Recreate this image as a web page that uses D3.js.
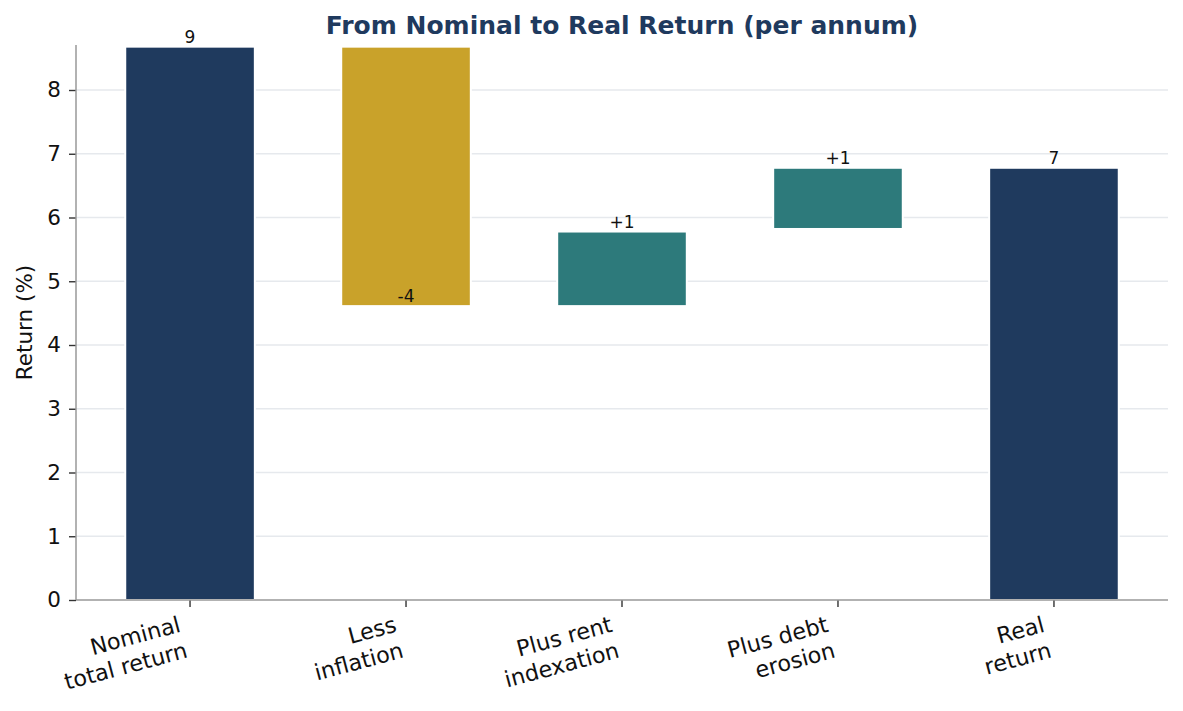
<!DOCTYPE html>
<html>
<head>
<meta charset="utf-8">
<script src="https://cdn.jsdelivr.net/npm/d3@7"></script>
<style>
  body { margin: 0; background: #fff; }
  svg { display: block; font-family: "DejaVu Sans", sans-serif; }
</style>
</head>
<body>
<div id="chart"></div>
<script>
// waterfall steps
const steps = ["Nominal\ntotal return", "Less\ninflation", "Plus rent\nindexation", "Plus debt\nerosion", "Real\nreturn"];
const barBottom = [0, 4.61, 4.61, 5.82, 0];
const barTop = [8.68, 8.68, 5.78, 6.78, 6.78];
const valueLabels = ["9", "-4", "+1", "+1", "7"];
const labelAt = [8.68, 4.61, 5.78, 6.78, 6.78];
const stepKind = ["total", "neg", "pos", "pos", "total"];
const yTicks = [0, 1, 2, 3, 4, 5, 6, 7, 8];

const colors = {total: "#1f3a5e", neg: "#c9a22a", pos: "#2d7a7b"};

const W = 1183, H = 711;
const margin = {top: 45, right: 15, bottom: 111, left: 76},
    width = W - margin.left - margin.right,
    height = H - margin.top - margin.bottom;

const svg = d3.select("#chart").append("svg")
    .attr("width", W)
    .attr("height", H);

const g = svg.append("g")
    .attr("transform", "translate(" + margin.left + "," + margin.top + ")");

const x = d3.scaleBand()
    .domain(steps)
    .range([0, width])
    .paddingInner(0.4)
    .paddingOuter(0.228);

const y = d3.scaleLinear()
    .domain([0, 8.706])
    .range([height, 0]);

// grid lines
g.append("g")
    .selectAll("line")
    .data(yTicks.slice(1))
    .join("line")
    .attr("x1", 0)
    .attr("x2", width)
    .attr("y1", d => y(d))
    .attr("y2", d => y(d))
    .attr("stroke", "#e6e9ed")
    .attr("stroke-width", 1.5);

// bars
g.append("g")
    .selectAll("rect")
    .data(steps)
    .join("rect")
    .attr("x", d => x(d))
    .attr("width", x.bandwidth())
    .attr("y", (d, i) => y(barTop[i]))
    .attr("height", (d, i) => y(barBottom[i]) - y(barTop[i]))
    .attr("fill", (d, i) => colors[stepKind[i]])
    .attr("stroke", "#fff")
    .attr("stroke-width", 2);

// value labels
g.append("g")
    .selectAll("text")
    .data(steps)
    .join("text")
    .attr("x", d => x(d) + x.bandwidth() / 2)
    .attr("y", (d, i) => y(labelAt[i]) - 4)
    .attr("text-anchor", "middle")
    .attr("font-size", 17)
    .attr("fill", "#111")
    .text((d, i) => valueLabels[i]);

// y axis
const yAxis = g.append("g")
    .call(d3.axisLeft(y).tickValues(yTicks).tickSize(7).tickPadding(8).tickFormat(d3.format("d")));
yAxis.select(".domain").remove();
yAxis.selectAll(".tick line").attr("stroke", "#333").attr("stroke-width", 1.4);
yAxis.selectAll(".tick text").attr("font-size", 21.5).attr("fill", "#111")
    .attr("font-family", "DejaVu Sans");

// x axis
const xAxis = g.append("g")
    .attr("transform", "translate(0," + height + ")")
    .call(d3.axisBottom(x).tickSize(7).tickFormat(""));
xAxis.select(".domain").remove();
xAxis.selectAll(".tick line").attr("stroke", "#333").attr("stroke-width", 1.4);

// spines
g.append("line")
    .attr("x1", 0).attr("x2", 0)
    .attr("y1", 0).attr("y2", height)
    .attr("stroke", "#999").attr("stroke-width", 1.5);
g.append("line")
    .attr("x1", 0).attr("x2", width)
    .attr("y1", height).attr("y2", height)
    .attr("stroke", "#999").attr("stroke-width", 1.5);

// rotated two-line category labels, right-aligned, right edge on the tick
steps.forEach(s => {
    const lbl = svg.append("g");
    const t = lbl.append("text")
        .attr("text-anchor", "end")
        .attr("font-size", 22.3)
        .attr("fill", "#111");
    s.split("\n").forEach((line, k) => {
        t.append("tspan").attr("x", 0).attr("dy", k === 0 ? 0 : "1.2em").text(line);
    });
    lbl.attr("transform", "rotate(-15)");
    const r = lbl.node().getBoundingClientRect();
    const tx = margin.left + x(s) + x.bandwidth() / 2;
    const ty = margin.top + height + 11;
    lbl.attr("transform", "translate(" + (tx - r.right) + "," + (ty - r.top) + ") rotate(-15)");
});

// y label
svg.append("text")
    .attr("transform", "translate(32," + (margin.top + height / 2) + ") rotate(-90)")
    .attr("text-anchor", "middle")
    .attr("font-size", 21.5)
    .attr("fill", "#111")
    .text("Return (%)");

// title
svg.append("text")
    .attr("x", margin.left + width / 2)
    .attr("y", 34)
    .attr("text-anchor", "middle")
    .attr("font-size", 25)
    .attr("font-weight", "bold")
    .attr("fill", "#1f3a5e")
    .text("From Nominal to Real Return (per annum)");
</script>
</body>
</html>
